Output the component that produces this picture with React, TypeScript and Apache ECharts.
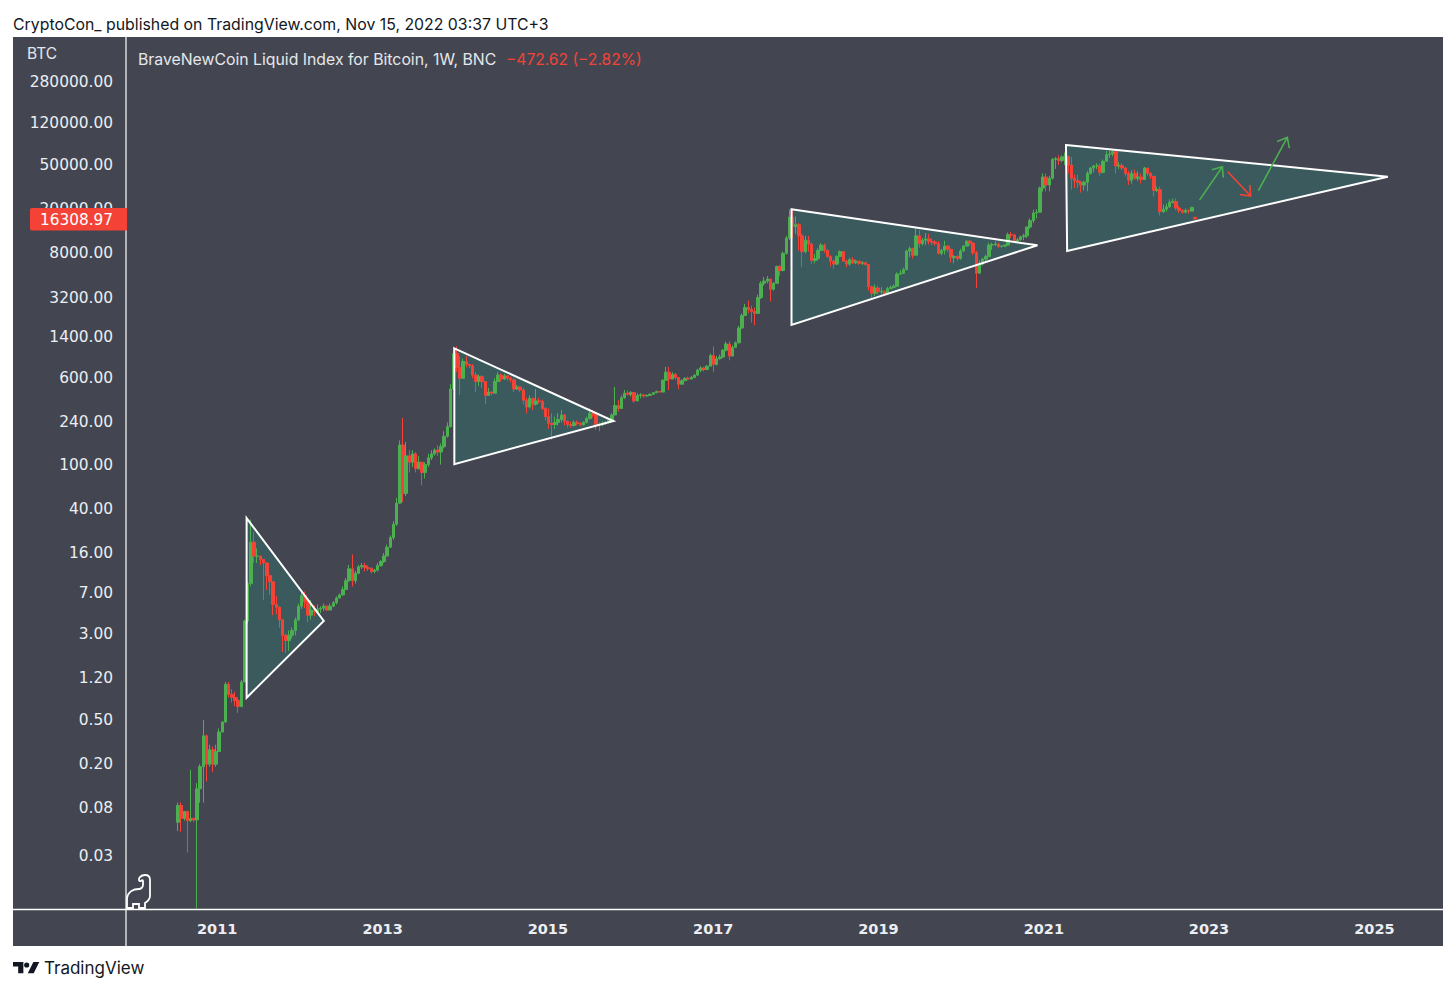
import React, { useEffect, useRef } from "react";
import * as echarts from "echarts";

const FONT = "Inter, 'Noto Sans', sans-serif";
const NUMFONT = "'DejaVu Sans', sans-serif";
const UP = "#4caf50";
const DOWN = "#f44336";
const PANEL = "#434651";

const priceTicks = [280000, 120000, 50000, 20000, 8000, 3200, 1400, 600, 240, 100, 40, 16, 7, 3, 1.2, 0.5, 0.2, 0.08, 0.03];
const yearTicks = [2011, 2013, 2015, 2017, 2019, 2021, 2023, 2025];
const firstBar = "2010-07-12";
const firstOpen = 0.06;
const lastOpen = 16900;
const lastPrice = 16308.97;

// [close, high, low], one per two weeks
const bars2010 = [
  [0.085, 0.09, 0.05], [0.065, 0.091, 0.049], [0.075, 0.076, 0.062], [0.062, 0.076, 0.032], [0.065, 0.178, 0.06],
  [0.063, 0.066, 0.06], [0.12, 0.135, 0.01], [0.19, 0.2, 0.09], [0.36, 0.5, 0.09], [0.2, 0.37, 0.14],
  [0.27, 0.3, 0.19], [0.2, 0.29, 0.17],
];
const bars2011 = [
  [0.26, 0.3, 0.19], [0.39, 0.42, 0.26], [0.48, 0.49, 0.39], [1.05, 1.1, 0.47], [0.85, 1.1, 0.8], [0.8, 0.95, 0.72],
  [0.75, 0.9, 0.67], [0.66, 0.8, 0.58], [1.1, 1.15, 0.7], [3.9, 4, 1.1], [8.5, 8.8, 3.7], [20, 32, 8],
  [15, 24.7, 13], [15, 17.6, 13], [14, 15, 12.4], [13, 14, 6], [10, 12, 7.4], [8.8, 9.5, 6.7], [5.5, 8, 4.4],
  [5.2, 6.5, 4.5], [4, 5.3, 3.4], [2.9, 3.8, 2.05], [2.6, 3, 2], [2.9, 3.2, 2.1], [3.2, 3.4, 2.7], [4, 4.2, 2.9], [5.3, 5.6, 3.9],
];
const bars2012 = [
  [6.6, 7.3, 5], [5.8, 7.2, 5.1], [4.4, 6.2, 3.8], [4.9, 6, 4], [4.7, 5.4, 4.3], [5, 5.5, 4.5], [5.1, 5.3, 4.6],
  [5.3, 5.6, 4.8], [4.9, 5.4, 4.8], [5.3, 5.6, 4.9], [5.7, 5.9, 5.2], [6.3, 6.5, 5.5], [6.7, 6.9, 6.2], [7.5, 8, 6.6],
  [9, 9.5, 7.4], [11.5, 12.5, 8.8], [9, 15.5, 8], [10.5, 11, 8.5], [12, 12.5, 10.3], [12.3, 13, 11.5], [11.8, 13, 10.9],
  [11.6, 12.3, 11], [10.9, 11.9, 10.5], [11.2, 11.5, 10.5], [12.3, 13, 10.9], [13.4, 13.8, 12],
];
const bars2013 = [
  [15, 16, 13], [18, 19, 15], [22, 23, 18], [29, 31, 21], [45, 50, 28], [150, 165, 44], [55, 263, 46], [120, 160, 52],
  [105, 135, 85], [125, 135, 95], [92, 130, 85], [105, 120, 90], [85, 100, 65], [100, 105, 75], [115, 125, 95],
  [125, 135, 110], [135, 140, 120], [130, 150, 120], [145, 155, 100], [180, 200, 140], [220, 240, 175], [480, 530, 215],
  [1000, 1150, 470], [750, 1163, 680], [600, 950, 424], [850, 900, 700],
];
const bars2014 = [
  [800, 950, 750], [780, 810, 740], [640, 800, 600], [560, 680, 450], [620, 650, 510], [560, 640, 490], [420, 540, 350],
  [450, 490, 420], [440, 460, 420], [560, 600, 440], [640, 680, 560], [590, 660, 560], [630, 660, 580], [600, 640, 570],
  [580, 620, 550], [480, 600, 450], [500, 520, 470], [470, 510, 450], [380, 490, 350], [330, 400, 290], [395, 420, 320],
  [350, 400, 310], [375, 480, 340], [370, 400, 355], [320, 385, 310], [270, 330, 250],
];
const bars2015 = [
  [235, 320, 210], [230, 290, 168], [240, 270, 210], [255, 290, 225], [280, 310, 240], [245, 285, 225], [230, 250, 215],
  [225, 245, 215], [240, 250, 220], [235, 250, 225], [228, 240, 222], [240, 245, 225], [260, 270, 235], [290, 320, 255],
  [280, 310, 265], [230, 290, 205], [228, 240, 200], [235, 245, 222], [240, 245, 228], [250, 255, 235], [280, 290, 245],
  [340, 500, 280], [320, 380, 300], [400, 420, 320], [440, 470, 390], [430, 465, 420],
];
const bars2016 = [
  [445, 460, 410], [375, 450, 360], [420, 440, 370], [425, 440, 395], [415, 430, 400], [420, 430, 410], [430, 440, 415],
  [445, 450, 425], [455, 465, 440], [450, 460, 445], [575, 590, 450], [680, 760, 570], [590, 760, 470], [650, 680, 590],
  [610, 670, 580], [530, 610, 480], [570, 590, 530], [600, 610, 570], [590, 620, 575], [610, 630, 585], [640, 650, 600],
  [710, 730, 630], [740, 770, 680], [720, 760, 690], [770, 790, 710], [960, 1000, 770],
];
const bars2017 = [
  [800, 1160, 680], [900, 950, 780], [930, 980, 880], [1070, 1100, 920], [1220, 1280, 1050], [950, 1290, 870], [1140, 1190, 950],
  [1250, 1290, 1130], [1700, 1780, 1240], [2200, 2300, 1680], [2600, 2800, 2200], [2500, 3000, 2300], [2400, 2700, 1900],
  [2300, 2600, 1800], [3200, 3400, 2300], [4300, 4500, 3100], [4500, 4900, 4100], [4700, 5000, 4300], [3800, 4500, 2950],
  [4300, 4400, 3700], [6100, 6200, 4300], [5600, 6300, 5000], [8000, 8300, 5500], [11000, 11500, 7800], [17000, 19800, 10500],
  [14000, 19666, 11000],
];
const bars2018 = [
  [14500, 17200, 12000], [11500, 15000, 8500], [8300, 12000, 6000], [10500, 11500, 8000], [9700, 11500, 8300], [6900, 10000, 6400],
  [7200, 7900, 6500], [8500, 8900, 6900], [9500, 9900, 8500], [8500, 9800, 8100], [7500, 8700, 7300], [6800, 7700, 6100],
  [6400, 7000, 5800], [7500, 7700, 6300], [8300, 8500, 7400], [6800, 8400, 6700], [6400, 7000, 6000], [7000, 7300, 6200],
  [6600, 7400, 6400], [6800, 7000, 6400], [6500, 6800, 6300], [6600, 6800, 6300], [6350, 6700, 6200], [4000, 6400, 3700],
  [3500, 4100, 3150], [3900, 4200, 3300],
];
const bars2019 = [
  [3600, 4100, 3400], [3650, 3950, 3400], [3450, 3700, 3300], [3850, 4000, 3400], [3950, 4100, 3800], [4050, 4200, 3950],
  [5200, 5400, 4050], [5300, 5700, 5100], [5700, 5950, 5200], [8400, 8600, 5700], [8800, 9200, 7400], [7700, 9000, 7200],
  [11500, 13800, 7700], [9800, 13000, 9000], [10500, 11000, 9400], [10800, 12200, 9500], [10200, 12000, 9600], [10100, 10900, 9500],
  [9800, 10500, 9400], [8000, 10300, 7800], [8500, 8800, 7700], [9300, 10400, 7800], [8700, 9500, 8200], [7300, 8800, 6600],
  [7500, 7700, 6500], [7200, 7700, 6800],
];
const bars2020 = [
  [8400, 8800, 7000], [9300, 9500, 8300], [10300, 10500, 9200], [9900, 10500, 9400], [8100, 10000, 7700], [5300, 8400, 3900],
  [6400, 6900, 5900], [7100, 7300, 6200], [7500, 7800, 6700], [9500, 10000, 7500], [9600, 10000, 8600], [9700, 10300, 9300],
  [9200, 10000, 9000], [9300, 9500, 9050], [9500, 9600, 9100], [11800, 12300, 9400], [11700, 12500, 11000], [10300, 12000, 10000],
  [10600, 11000, 10000], [11300, 11500, 10400], [11500, 12000, 10500], [13800, 14000, 11000], [15800, 16500, 13300],
  [18500, 19800, 15000], [18800, 20000, 16500], [31000, 32000, 18700], [39000, 42000, 28800],
];
const bars2021 = [
  [33000, 42000, 28900], [38000, 40000, 29000], [56000, 58000, 37000], [57000, 59000, 46000], [55000, 61000, 50000],
  [59000, 61000, 53000], [60000, 64800, 50000], [50000, 60000, 42000], [38000, 59000, 30000], [36000, 41000, 31000],
  [35000, 41000, 31000], [33000, 36000, 28200], [35000, 36000, 29500], [42000, 44000, 29000], [47000, 48000, 41000],
  [49000, 50000, 43000], [49000, 52000, 46000], [43000, 51000, 40000], [54000, 56000, 42000], [62000, 67000, 54000],
  [63000, 67000, 58000], [66000, 69000, 60000], [49000, 66000, 42000], [49500, 53000, 46000], [47000, 52000, 45000],
];
const bars2022 = [
  [42000, 48000, 39500], [36500, 44000, 33000], [42000, 45000, 34000], [38000, 45500, 37000], [39000, 44000, 36000],
  [37000, 42000, 34000], [47000, 48000, 37000], [42000, 47000, 40000], [39500, 43000, 37500], [29500, 40000, 26000],
  [30000, 32000, 28500], [19000, 32000, 17600], [20000, 22000, 18500], [21000, 22500, 19000], [23000, 24500, 20500],
  [23500, 25000, 22500], [20500, 25000, 19500], [19500, 21500, 18500], [18800, 20000, 18200], [19500, 20300, 18300],
  [19200, 20000, 18200], [20800, 21000, 19100], [16308.97, 16900, 16200],
];

// corners: date, price
const triangle2011 = [["2011-05-11", 33], ["2012-04-16", 3.9], ["2011-05-11", 0.794]];
const triangle2013 = [["2013-11-14", 1116], ["2015-10-18", 247], ["2013-11-14", 101]];
const triangle2017 = [["2017-12-13", 19950], ["2020-12-04", 9450], ["2017-12-13", 1811]];
const triangle2021 = [["2021-04-09", 75700], ["2025-03-01", 39260], ["2021-04-14", 8400]];
const arrowUpFirst = [["2022-11-20", 24150], ["2023-03-01", 48300]];
const arrowDown = [["2023-03-25", 43500], ["2023-07-04", 26300]];
const arrowUpSecond = [["2023-08-07", 29400], ["2023-12-13", 88900]];

const ms = (d: string) => new Date(d + "T00:00:00Z").getTime();
const allBars = [...bars2010, ...bars2011, ...bars2012, ...bars2013, ...bars2014, ...bars2015, ...bars2016, ...bars2017, ...bars2018, ...bars2019, ...bars2020, ...bars2021, ...bars2022];
const STEP = 14 * 86400000;
const candleData = allBars.map((b, i) => {
  const open = i === 0 ? firstOpen : i === allBars.length - 1 ? lastOpen : allBars[i - 1][0];
  return [ms(firstBar) + i * STEP, open, b[0], b[2], b[1]];
});
const flat = (pts: any[]) => pts.flatMap((p) => [ms(p[0]), p[1]]);
const triangleData = [triangle2011, triangle2013, triangle2017, triangle2021].map(flat);
const arrowData = [arrowUpFirst, arrowDown, arrowUpSecond].map(flat);
const arrowColors = [UP, DOWN, UP];

const DINO = "M145 875C148 875 150 877 150 880L150 896C150 899 148 901 145 903L145 908L139 908L139 904L133 904L133 908L127 908L127 898C128 892 133 889 139 889C141 889 143 887 143 885L143 881C143 880 142 880 141 881C139 882 138 879 140 877C141 876 143 875 145 875Z";
const TVLOGO = "M14 6H0v6h7v9h7V6z M28 21h-8l7.5-15h8L28 21z M22 10a3.5 3.5 0 1 1-7 0 3.5 3.5 0 0 1 7 0z";
echarts.graphic.registerShape("dino", echarts.graphic.extendPath(DINO, {}) as any);
echarts.graphic.registerShape("tvlogo", echarts.graphic.extendPath(TVLOGO, {}) as any);

export default function App() {
  const ref = useRef<HTMLDivElement>(null);
  useEffect(() => {
    const chart = echarts.init(ref.current!, undefined, { renderer: "svg" });
    const txt = (text: string, x: number, y: number, fill: string, size: number, extra: any = {}, family: string = FONT) => ({
      type: "text", z: 100, x, y,
      style: { text, fill, font: `${size}px ${family}`, textVerticalAlign: "middle", ...extra },
    });
    chart.setOption({
      animation: false,
      backgroundColor: "#ffffff",
      grid: { left: 126, right: 13, top: 37, bottom: 84 },
      xAxis: {
        type: "value",
        min: ms("2009-11-24"),
        max: ms("2025-10-31"),
        splitLine: { show: false },
        axisLine: { show: false },
        axisTick: { show: false },
        axisLabel: {
          customValues: yearTicks.map((y) => Date.UTC(y, 0, 1)),
          formatter: (v: number) => String(new Date(v).getUTCFullYear()),
          color: "#eceef2",
          fontFamily: NUMFONT,
          fontWeight: 700,
          fontSize: 14.5,
          margin: 12,
          hideOverlap: false,
        },
      },
      yAxis: {
        type: "log",
        logBase: 10,
        min: 0.00992,
        max: 711500,
        splitLine: { show: false },
        minorSplitLine: { show: false },
        axisLine: { show: false },
        axisTick: { show: false },
        axisLabel: {
          customValues: priceTicks,
          formatter: (v: number) => v.toFixed(2),
          color: "#eceef2",
          fontFamily: NUMFONT,
          fontSize: 15.4,
          margin: 13,
          padding: [2, 0, 0, 0],
          hideOverlap: false,
        },
      },
      series: [
        {
          type: "custom", silent: true, z: 1, clip: false, data: triangleData,
          encode: { x: [0, 2, 4], y: [1, 3, 5] },
          renderItem: (_: any, api: any) => ({
            type: "polygon",
            shape: { points: [0, 2, 4].map((i) => api.coord([api.value(i), api.value(i + 1)])) },
            style: { fill: "#3a5a5d", stroke: "none" },
          }),
        },
        {
          type: "candlestick", z: 2, data: candleData, barWidth: 3,
          encode: { x: 0, y: [1, 2, 3, 4] },
          itemStyle: { color: UP, color0: DOWN, borderColor: UP, borderColor0: DOWN, borderWidth: 1 },
        },
        {
          type: "custom", silent: true, z: 3, clip: false, data: triangleData,
          encode: { x: [0, 2, 4], y: [1, 3, 5] },
          renderItem: (_: any, api: any) => ({
            type: "polygon",
            shape: { points: [0, 2, 4].map((i) => api.coord([api.value(i), api.value(i + 1)])) },
            style: { fill: "none", stroke: "#ffffff", lineWidth: 2 },
          }),
        },
        {
          type: "custom", silent: true, z: 4, clip: false, data: arrowData,
          encode: { x: [0, 2], y: [1, 3] },
          renderItem: (p: any, api: any) => {
            const a = api.coord([api.value(0), api.value(1)]);
            const b = api.coord([api.value(2), api.value(3)]);
            const ang = Math.atan2(b[1] - a[1], b[0] - a[0]);
            const barb = (d: number) => [b[0] - 11 * Math.cos(ang + d), b[1] - 11 * Math.sin(ang + d)];
            return {
              type: "group",
              children: [
                { type: "line", shape: { x1: a[0], y1: a[1], x2: b[0], y2: b[1] }, style: { stroke: arrowColors[p.dataIndex], lineWidth: 1.6 } },
                { type: "polyline", shape: { points: [barb(0.68), b, barb(-0.68)] }, style: { fill: "none", stroke: arrowColors[p.dataIndex], lineWidth: 1.6 } },
              ],
            };
          },
        },
      ],
      graphic: [
        { type: "rect", z: -10, shape: { x: 13, y: 37, width: 1430, height: 909 }, style: { fill: PANEL } },
        { type: "line", z: 90, shape: { x1: 126, y1: 37, x2: 126, y2: 946 }, style: { stroke: "#f2f2f2", lineWidth: 1.3 } },
        { type: "line", z: 90, shape: { x1: 13, y1: 909.5, x2: 1443, y2: 909.5 }, style: { stroke: "#ffffff", lineWidth: 1.3 } },
        txt("CryptoCon_ published on TradingView.com, Nov 15, 2022 03:37 UTC+3", 13, 24, "#131722", 15.85),
        txt("BTC", 27, 53, "#e6e7ea", 15.5),
        txt("BraveNewCoin Liquid Index for Bitcoin, 1W, BNC", 138, 59.5, "#e6e7ea", 15.8),
        txt("\u2212472.62 (\u22122.82%)", 506, 59.5, DOWN, 15.6),
        { type: "rect", z: 95, shape: { x: 30, y: 208, width: 97, height: 22.5, r: [2, 0, 0, 2] }, style: { fill: DOWN } },
        txt(lastPrice.toFixed(2), 113, 219.5, "#ffffff", 15.3, { textAlign: "right" }, NUMFONT),
        { type: "dino", z: 100, x: 0, y: 0, style: { fill: "none", stroke: "#ffffff", lineWidth: 1.8 } },
        { type: "tvlogo", z: 100, x: 13, y: 957.6, scaleX: 0.74, scaleY: 0.74, style: { fill: "#131722" } },
        txt("TradingView", 44, 968, "#131722", 17),
      ],
    });
    return () => chart.dispose();
  }, []);
  return <div ref={ref} style={{ position: "absolute", left: 0, top: 0, width: 1456, height: 993 }} />;
}
